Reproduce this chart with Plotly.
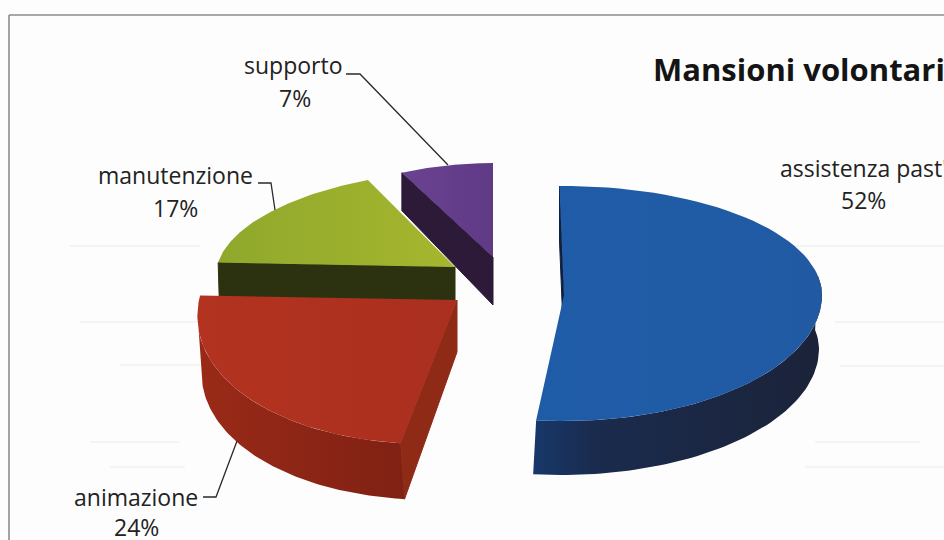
import math
import plotly.graph_objects as go

# ---- data ----
categories = ["assistenza past'", "animazione", "manutenzione", "supporto"]
percentages = [52, 24, 17, 7]
chart_title = "Mansioni volontari"

# ---- styling / layout (not data) ----
FONT = "Open Sans"
W, H = 944, 540
ROTATION = -1.0

slice_geometry = {
    "assistenza past'": dict(cx=564, cy=295, rx=258, up=109, down=126, shear=0.0,
                             top=("#1f5ca8", "#215aa3"),
                             arc=dict(start=80, stop=None, dx=-3, depth=54,
                                      colors=[[0, "#17386a"], [0.22, "#1a2b4d"], [1, "#1b2339"]]),
                             radial=dict(dx=0, near=55, far=55, color="#10203c")),
    "animazione": dict(cx=457, cy=300, rx=258, up=97, down=144, shear=-0.2,
                       top=("#b2331f", "#ab2f1f"),
                       arc=dict(start=None, stop=258, dx=4, depth=56,
                                colors=[[0, "#9a2a18"], [1, "#7f2113"]]),
                       radial=dict(dx=4, near=52, far=56, color="#8f2a17")),
    "manutenzione": dict(cx=455, cy=267, rx=238, up=97, down=97, shear=-0.207,
                         top=("#8fa82c", "#a6b62e"),
                         radial=dict(dx=1, near=34, far=34, color="#2c3210")),
    "supporto": dict(cx=493, cy=257, rx=214, up=94, down=94, shear=-0.04,
                     top=("#6b4292", "#5f3a85"),
                     radial=dict(dx=0, near=48, far=38, color="#2d1a38")),
}

label_positions = {
    "assistenza past'": dict(name=(863, 168), pct=(863, 200)),
    "animazione": dict(name=(136, 497), pct=(136, 527)),
    "manutenzione": dict(name=(175, 175), pct=(175, 208)),
    "supporto": dict(name=(293, 65), pct=(295, 98)),
}

leader_lines = [
    "M 346 74 L 360 74 L 448 165",
    "M 258 183 L 271 183 L 275 210",
    "M 203 497 L 216 497 L 237 441",
]

streaks = [
    (790, 944, 246), (70, 200, 246), (835, 944, 322), (80, 280, 322), (840, 944, 366),
    (120, 200, 365), (815, 920, 442), (90, 180, 442), (805, 944, 467), (110, 185, 467),
]


def rim(g, deg):
    """Point on the tilted disc of one slice for a clock angle in degrees."""
    t = math.radians(deg)
    s, c = math.sin(t), math.cos(t)
    y = -c * (g["up"] if c > 0 else g["down"])
    x = s * g["rx"] + g["shear"] * y
    return g["cx"] + x, g["cy"] + y


def arc(g, a, b, n=70):
    pts = [rim(g, a + (b - a) * i / n) for i in range(n + 1)]
    return [p[0] for p in pts], [p[1] for p in pts]


fig = go.Figure()

angle = ROTATION
spans = {}
for name, pct in zip(categories, percentages):
    spans[name] = (angle, angle + pct * 3.6)
    angle += pct * 3.6

# farthest slice first, nearest last
for name in ["supporto", "manutenzione", "animazione", "assistenza past'"]:
    g = slice_geometry[name]
    a, b = spans[name]
    fmt = dict(mode="lines", fill="toself", hoverinfo="skip", showlegend=False)

    if "radial" in g:
        r = g["radial"]
        px, py = rim(g, a)
        fig.add_trace(go.Scatter(
            x=[g["cx"], px, px + r["dx"], g["cx"], g["cx"]],
            y=[g["cy"], py, py + r["far"], g["cy"] + r["near"], g["cy"]],
            fillcolor=r["color"], line=dict(width=1, color=r["color"]), **fmt))

    if "arc" in g:
        w = g["arc"]
        start = w["start"] if w["start"] is not None else a
        stop = w["stop"] if w["stop"] is not None else b
        xs, ys = arc(g, start, stop)
        fig.add_trace(go.Scatter(
            x=xs + [v + w["dx"] for v in reversed(xs)],
            y=ys + [v + w["depth"] for v in reversed(ys)],
            fillgradient=dict(type="horizontal", colorscale=w["colors"]),
            line=dict(width=0), **fmt))

    xs, ys = arc(g, a, b)
    fig.add_trace(go.Scatter(
        x=[g["cx"]] + xs + [g["cx"]],
        y=[g["cy"]] + ys + [g["cy"]],
        fillgradient=dict(type="horizontal",
                          colorscale=[[0, g["top"][0]], [1, g["top"][1]]]),
        line=dict(width=0), **fmt))

shapes = [
    dict(type="line", x0=x0, x1=x1, y0=y, y1=y, layer="below",
         line=dict(color="#ececec", width=1.2))
    for x0, x1, y in streaks
]
shapes += [
    dict(type="line", x0=9, x1=9, y0=15, y1=H, line=dict(color="#8c8c8c", width=1.6)),
    dict(type="line", x0=9, x1=W, y0=15, y1=15, line=dict(color="#8c8c8c", width=1.6)),
]
shapes += [dict(type="path", path=p, line=dict(color="#2a2a2a", width=1.3)) for p in leader_lines]

annotations = [dict(x=651, y=69, text=f"<b>{chart_title}</b>", xanchor="left", yanchor="middle",
                    showarrow=False, font=dict(family=FONT, size=31, color="#141414"))]
for name, pct in zip(categories, percentages):
    pos = label_positions[name]
    for key, text in (("name", name), ("pct", f"{pct}%")):
        annotations.append(dict(x=pos[key][0], y=pos[key][1], text=text, xanchor="center",
                                yanchor="middle", showarrow=False,
                                font=dict(family=FONT, size=23, color="#222222")))

fig.update_layout(
    width=W, height=H, margin=dict(l=0, r=0, t=0, b=0), autosize=False,
    paper_bgcolor="#fdfdfd", plot_bgcolor="#fdfdfd", showlegend=False,
    xaxis=dict(range=[0, W], visible=False, fixedrange=True),
    yaxis=dict(range=[H, 0], visible=False, fixedrange=True),
    shapes=shapes, annotations=annotations,
)

fig.write_html("out.html", config=dict(displayModeBar=False),
               post_script="document.body.style.margin='0';document.body.style.overflow='hidden';")
